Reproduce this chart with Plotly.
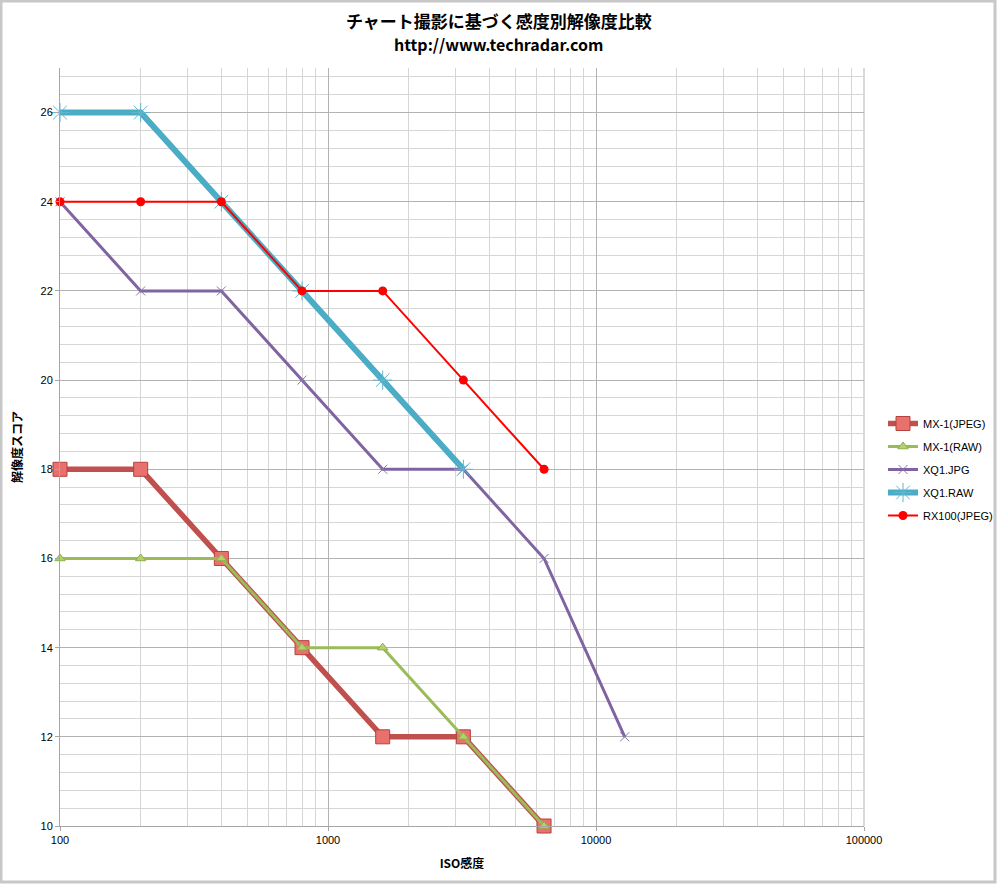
import plotly.graph_objects as go

# ISO sensitivity values and resolution scores per camera/format
iso_mx1_jpeg = [100, 200, 400, 800, 1600, 3200, 6400]
score_mx1_jpeg = [18, 18, 16, 14, 12, 12, 10]

iso_mx1_raw = [100, 200, 400, 800, 1600, 3200, 6400]
score_mx1_raw = [16, 16, 16, 14, 14, 12, 10]

iso_xq1_jpg = [100, 200, 400, 800, 1600, 3200, 6400, 12800]
score_xq1_jpg = [24, 22, 22, 20, 18, 18, 16, 12]

iso_xq1_raw = [100, 200, 400, 800, 1600, 3200]
score_xq1_raw = [26, 26, 24, 22, 20, 18]

iso_rx100_jpeg = [100, 200, 400, 800, 1600, 3200, 6400]
score_rx100_jpeg = [24, 24, 24, 22, 22, 20, 18]

x_tick_vals = [100, 1000, 10000, 100000]
x_tick_text = ["100", "1000", "10000", "100000"]
y_tick_vals = [10, 12, 14, 16, 18, 20, 22, 24, 26]

chart_title = "チャート撮影に基づく感度別解像度比較"
chart_subtitle = "http://www.techradar.com"

W, H = 998, 884
ML, MR, MT, MB = 60, 134, 68, 58
PW, PH = W - ML - MR, H - MT - MB

fig = go.Figure()

fig.add_trace(go.Scatter(
    x=iso_mx1_jpeg, y=score_mx1_jpeg, name="MX-1(JPEG)", mode="lines+markers",
    line=dict(color="#C0504D", width=5.5),
    marker=dict(symbol="square", size=14, color="#E8706D",
                line=dict(color="#B5423F", width=1)),
    cliponaxis=False, legendgroup="a",
))
fig.add_trace(go.Scatter(
    x=iso_mx1_raw, y=score_mx1_raw, name="MX-1(RAW)", mode="lines+markers",
    line=dict(color="#9BBB59", width=3),
    marker=dict(symbol="triangle-up", size=9, color="#B3D36A",
                line=dict(color="#8FAF4D", width=1)),
    cliponaxis=False, legendgroup="b",
))
fig.add_trace(go.Scatter(
    x=iso_xq1_jpg, y=score_xq1_jpg, name="XQ1.JPG", mode="lines+markers",
    line=dict(color="#8064A2", width=3),
    marker=dict(symbol="x-thin-open", size=9, color="#8A72AC",
                line=dict(color="#8A72AC", width=1)),
    cliponaxis=False, legendgroup="c",
))
fig.add_trace(go.Scatter(
    x=iso_xq1_raw, y=score_xq1_raw, name="XQ1.RAW", mode="lines+markers",
    line=dict(color="#4BACC6", width=6),
    marker=dict(symbol="asterisk-open", size=16, color="#5FB6CF",
                line=dict(color="#5FB6CF", width=1)),
    cliponaxis=False, legendgroup="d",
))
fig.add_trace(go.Scatter(
    x=iso_rx100_jpeg, y=score_rx100_jpeg, name="RX100(JPEG)", mode="lines+markers",
    line=dict(color="#FF0000", width=2),
    marker=dict(symbol="circle", size=9, color="#FF0000"),
    cliponaxis=False, legendgroup="e",
))

axis_font = dict(family="Liberation Sans, Arial, sans-serif", size=11, color="#000000")
title_font = dict(family="Noto Sans CJK JP, sans-serif", size=12, color="#000000")

fig.update_xaxes(
    type="log", range=[2, 5],
    tickvals=x_tick_vals, ticktext=x_tick_text,
    tickfont=axis_font, ticks="outside", ticklen=4, tickcolor="#a6a6a6",
    showgrid=True, gridcolor="#b3b3b3", gridwidth=1,
    showline=True, linecolor="#a6a6a6", linewidth=1,
    minor=dict(dtick="D1", showgrid=True, gridcolor="#d6d6d6", gridwidth=1, ticks=""),
    zeroline=False,
    title=dict(text="<b>ISO感度</b>", font=title_font, standoff=14),
)
fig.update_yaxes(
    range=[10, 27], tickvals=y_tick_vals,
    tickfont=axis_font, ticks="outside", ticklen=4, tickcolor="#a6a6a6",
    showgrid=True, gridcolor="#b3b3b3", gridwidth=1,
    showline=True, linecolor="#a6a6a6", linewidth=1,
    minor=dict(tick0=10, dtick=0.4, showgrid=True, gridcolor="#d6d6d6", gridwidth=1, ticks=""),
    zeroline=False,
    title=dict(text="<b>解像度スコア</b>", font=title_font, standoff=15),
)

# Right edge of the plotting area and the outer chart frame
fig.add_shape(type="line", xref="paper", yref="paper", x0=1, x1=1, y0=0, y1=1,
              line=dict(color="#b3b3b3", width=1), layer="below")
fig.add_shape(type="rect", xref="paper", yref="paper",
              x0=-(ML - 1) / PW, x1=(W - 3 - ML) / PW,
              y0=-(MB - 2) / PH, y1=1 + (MT - 1) / PH,
              line=dict(color="#c8c8c8", width=3))

# Two-line chart heading, centred on the page
page_cx = (W / 2 - ML) / PW
fig.add_annotation(
    text=f"<b>{chart_title}</b>", xref="paper", yref="paper",
    x=page_cx, y=1 + (MT - 20) / PH, xanchor="center", yanchor="middle",
    showarrow=False,
    font=dict(family="Noto Sans CJK JP, sans-serif", size=17, color="#000000"),
)
fig.add_annotation(
    text=f"<b>{chart_subtitle}</b>", xref="paper", yref="paper",
    x=page_cx, y=1 + (MT - 44) / PH, xanchor="center", yanchor="middle",
    showarrow=False,
    font=dict(family="Noto Sans CJK JP, sans-serif", size=16, color="#000000"),
)

fig.update_layout(
    width=W, height=H,
    margin=dict(l=ML, r=MR, t=MT, b=MB, autoexpand=False),
    paper_bgcolor="white", plot_bgcolor="white",
    legend=dict(
        x=(883 - ML) / PW, y=1 - (409 - MT) / PH, xanchor="left", yanchor="top",
        font=dict(family="Liberation Sans, Arial, sans-serif", size=11, color="#000000"),
        bgcolor="rgba(0,0,0,0)", tracegroupgap=4, itemwidth=30,
    ),
    showlegend=True,
)

fig.write_html("out.html")
